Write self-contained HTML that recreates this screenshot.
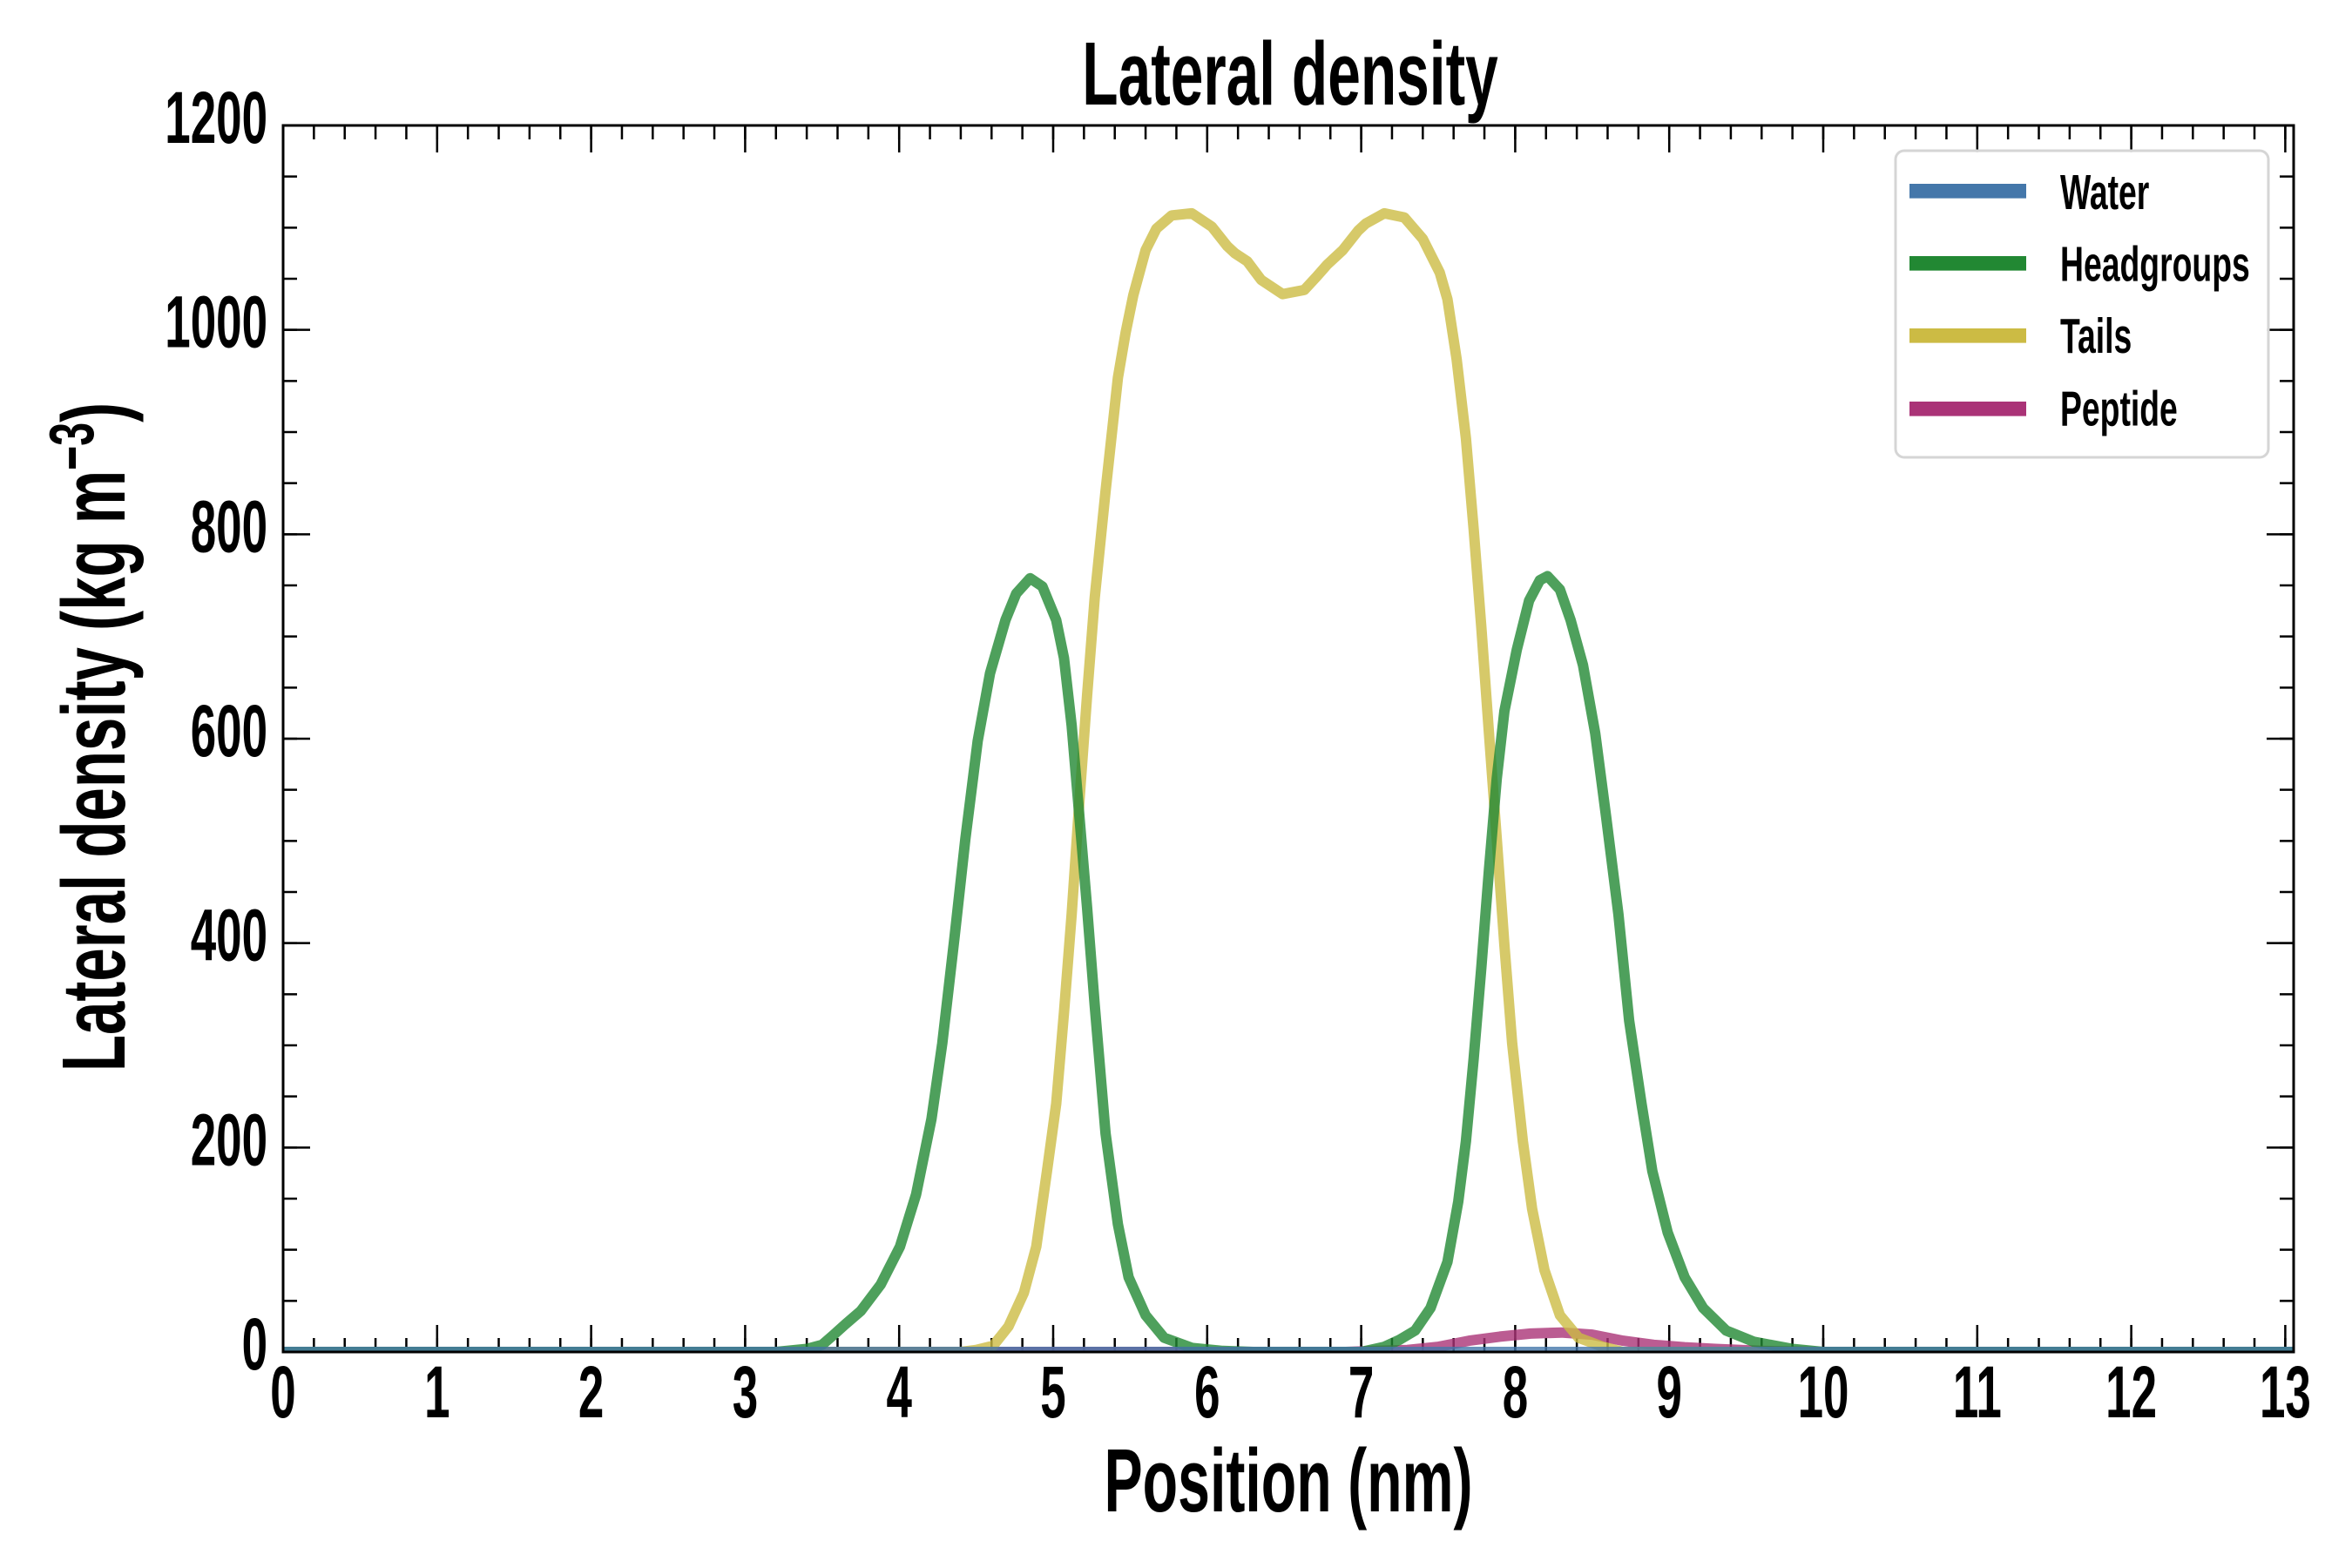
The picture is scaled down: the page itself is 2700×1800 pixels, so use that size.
<!DOCTYPE html>
<html>
<head>
<meta charset="utf-8">
<style>
  html, body { margin: 0; padding: 0; background: #ffffff; }
  svg { display: block; }
  text { font-family: "Liberation Sans", Arial, sans-serif; font-weight: bold; fill: #000; }
</style>
</head>
<body>
<svg width="2700" height="1800" viewBox="0 0 2700 1800" xmlns="http://www.w3.org/2000/svg">
  <rect x="0" y="0" width="2700" height="1800" fill="#ffffff"/>
  <defs>
    <clipPath id="ax">
      <rect x="325" y="144" width="2308" height="1408"/>
    </clipPath>
  </defs>

  <!-- ticks (minor via dashes) -->
  <g stroke="#000" fill="none">
    <!-- bottom -->
    <line x1="323.75" y1="1544" x2="2630" y2="1544" stroke-width="16" stroke-dasharray="2.5 32.86"/>
    <line x1="323.75" y1="1536.5" x2="2630" y2="1536.5" stroke-width="31" stroke-dasharray="2.5 174.3"/>
    <!-- top -->
    <line x1="323.75" y1="152" x2="2630" y2="152" stroke-width="16" stroke-dasharray="2.5 32.86"/>
    <line x1="323.75" y1="159.5" x2="2630" y2="159.5" stroke-width="31" stroke-dasharray="2.5 174.3"/>
    <!-- left -->
    <line x1="333" y1="1553.25" x2="333" y2="140" stroke-width="16" stroke-dasharray="2.5 56.167"/>
    <line x1="340.5" y1="1553.25" x2="340.5" y2="140" stroke-width="31" stroke-dasharray="2.5 232.167"/>
    <!-- right -->
    <line x1="2625" y1="1553.25" x2="2625" y2="140" stroke-width="16" stroke-dasharray="2.5 56.167"/>
    <line x1="2617.5" y1="1553.25" x2="2617.5" y2="140" stroke-width="31" stroke-dasharray="2.5 232.167"/>
  </g>

  <!-- data lines -->
  <g clip-path="url(#ax)" fill="none" stroke-width="12" stroke-linejoin="round" stroke-opacity="0.8">
    <!-- Peptide -->
    <path stroke="#AA3377" d="M320,1552 L1544.9,1552 L1580.3,1550.8 L1615.6,1549.7 L1651,1546.1 L1686.4,1539.1 L1721.7,1534.4 L1757.1,1530.9 L1792.4,1529.7 L1827.8,1532.1 L1863.2,1539.1 L1898.5,1543.8 L1933.9,1546.6 L1969.2,1548.5 L2022.3,1550.8 L2093,1552 L2640,1552"/>
    <!-- Tails -->
    <path stroke="#CCBB44" d="M320,1552 L1102.9,1552 L1120.6,1549.7 L1140,1545 L1157.7,1522.7 L1175.4,1484 L1189.6,1431.1 L1201.9,1344.3 L1212.5,1266.9 L1221.4,1162.5 L1230.2,1049.8 L1239.1,919.6 L1247.9,798.7 L1256.7,686.1 L1269.1,564.1 L1283.3,433.8 L1292.1,382.2 L1301,338.8 L1315.1,287.2 L1327.5,262.5 L1345.1,247.3 L1368.1,244.9 L1391.1,260.2 L1408.8,282.5 L1417.6,290.7 L1431.8,300 L1447.7,321.2 L1472.4,337.6 L1497.2,332.9 L1511.3,317.7 L1523.7,303.6 L1541.4,287.2 L1559.1,264.8 L1567.9,256.6 L1589.1,244.9 L1612.1,249.6 L1633.3,274.2 L1652.8,313 L1661.6,343.5 L1672.2,412.7 L1682.8,503 L1691.7,607.5 L1700.5,720.1 L1709.3,842.1 L1718.2,963 L1727,1085 L1735.9,1197.7 L1748.2,1310.3 L1758.8,1387.7 L1773,1458.1 L1790.7,1509.8 L1812,1535.6 L1840.2,1546.1 L1863.2,1552 L2640,1552"/>
    <!-- Headgroups -->
    <path stroke="#228833" d="M320,1552 L890.8,1552 L926.1,1548.5 L943.8,1543.8 L957.2,1532.1 L970.3,1520.3 L988,1505.1 L1011,1474.6 L1033.1,1431.1 L1051.6,1371.3 L1069.3,1284.5 L1081.7,1197.7 L1095.8,1075.6 L1108.2,963 L1122.4,850.3 L1136.5,772.9 L1154.2,711.9 L1166.6,681.4 L1182.5,663.8 L1196.6,673.2 L1212.5,711.9 L1221.4,755.3 L1230.2,832.8 L1239.1,937.2 L1247.9,1041.6 L1256.7,1154.2 L1269.1,1300.9 L1283.3,1405.3 L1295.6,1466.3 L1315.1,1509.8 L1336.3,1535.6 L1368.1,1547.3 L1403.5,1550.8 L1438.8,1552 L1562.6,1552 L1589.1,1546.1 L1606.8,1537.9 L1624.5,1527.4 L1642.2,1501.5 L1661.6,1448.7 L1674,1379.5 L1682.8,1310.3 L1691.7,1215.3 L1700.5,1110.8 L1709.3,998.2 L1718.2,893.8 L1727,816.3 L1741.2,745.9 L1755.3,689.6 L1767.7,666.1 L1776.5,661.4 L1790.7,676.7 L1803,711.9 L1817.2,763.5 L1831.3,842.1 L1843.7,937.2 L1857.9,1049.8 L1870.2,1171.8 L1884.4,1266.9 L1896.8,1344.3 L1914.4,1414.7 L1933.9,1466.3 L1955.1,1501.5 L1981.6,1527.4 L2013.4,1540.3 L2057.6,1548.5 L2093,1552 L2640,1552"/>
    <!-- Water -->
    <path stroke="#4477AA" d="M320,1552 L2640,1552"/>
  </g>

  <!-- spines -->
  <rect x="325" y="144" width="2308" height="1408" fill="none" stroke="#000" stroke-width="3"/>

  <!-- legend -->
  <rect x="2176" y="173" width="428" height="352" rx="10" ry="10" fill="#ffffff" fill-opacity="0.9" stroke="#d5d5d5" stroke-width="3"/>
  <g stroke-width="16.7" fill="none">
    <line x1="2192" y1="219.3" x2="2326" y2="219.3" stroke="#4477AA"/>
    <line x1="2192" y1="302.3" x2="2326" y2="302.3" stroke="#228833"/>
    <line x1="2192" y1="385.3" x2="2326" y2="385.3" stroke="#CCBB44"/>
    <line x1="2192" y1="469.3" x2="2326" y2="469.3" stroke="#AA3377"/>
  </g>
  <g font-size="57">
    <text transform="translate(2365,240) scale(0.655,1)">Water</text>
    <text transform="translate(2365,322.7) scale(0.655,1)">Headgroups</text>
    <text transform="translate(2365,405) scale(0.655,1)">Tails</text>
    <text transform="translate(2365,488.3) scale(0.655,1)">Peptide</text>
  </g>

  <!-- y tick labels -->
  <g font-size="84" text-anchor="end">
    <text transform="translate(307,1572) scale(0.63,1)">0</text>
    <text transform="translate(307,1337.3) scale(0.63,1)">200</text>
    <text transform="translate(307,1102.7) scale(0.63,1)">400</text>
    <text transform="translate(307,868) scale(0.63,1)">600</text>
    <text transform="translate(307,633.3) scale(0.63,1)">800</text>
    <text transform="translate(307,398.7) scale(0.63,1)">1000</text>
    <text transform="translate(307,164) scale(0.63,1)">1200</text>
  </g>

  <!-- x tick labels -->
  <g font-size="84" text-anchor="middle">
    <text transform="translate(325,1627) scale(0.63,1)">0</text>
    <text transform="translate(501.8,1627) scale(0.63,1)">1</text>
    <text transform="translate(678.6,1627) scale(0.63,1)">2</text>
    <text transform="translate(855.4,1627) scale(0.63,1)">3</text>
    <text transform="translate(1032.2,1627) scale(0.63,1)">4</text>
    <text transform="translate(1209,1627) scale(0.63,1)">5</text>
    <text transform="translate(1385.8,1627) scale(0.63,1)">6</text>
    <text transform="translate(1562.6,1627) scale(0.63,1)">7</text>
    <text transform="translate(1739.4,1627) scale(0.63,1)">8</text>
    <text transform="translate(1916.2,1627) scale(0.63,1)">9</text>
    <text transform="translate(2093,1627) scale(0.63,1)">10</text>
    <text transform="translate(2269.8,1627) scale(0.63,1)">11</text>
    <text transform="translate(2446.6,1627) scale(0.63,1)">12</text>
    <text transform="translate(2623.4,1627) scale(0.63,1)">13</text>
  </g>

  <!-- title -->
  <text transform="translate(1481,120) scale(0.657,1)" font-size="103" text-anchor="middle">Lateral density</text>

  <!-- x label -->
  <text transform="translate(1479,1735) scale(0.643,1)" font-size="103" text-anchor="middle">Position (nm)</text>

  <!-- y label -->
  <text transform="translate(143,846) rotate(-90) scale(0.67,1)" font-size="103" text-anchor="middle">Lateral density (kg m<tspan font-size="72" dy="-36">−3</tspan><tspan dy="36">)</tspan></text>
</svg>
</body>
</html>
